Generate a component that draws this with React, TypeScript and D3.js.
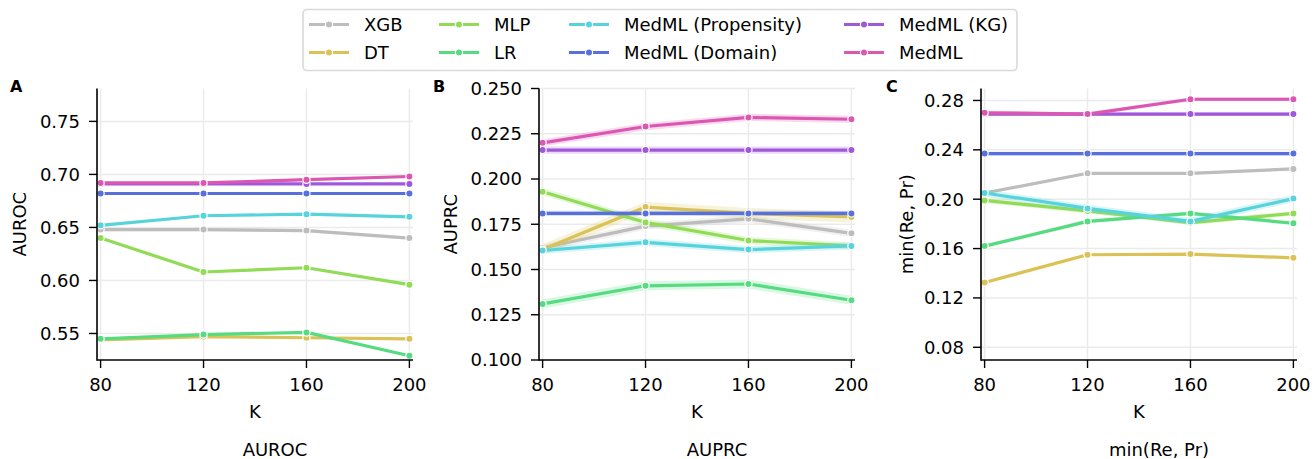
import React from "react";
import * as d3 from "d3";

const K = [80, 120, 160, 200];

const models = [
  "XGB",
  "DT",
  "MLP",
  "LR",
  "MedML (Propensity)",
  "MedML (Domain)",
  "MedML (KG)",
  "MedML",
];

const colors = [
  "#bdbdbd",
  "#dbc257",
  "#91db57",
  "#57db80",
  "#57d3db",
  "#5770db",
  "#a157db",
  "#db57b2",
];

// values per model, same order as `models`
const aurocValues = [
  [0.648, 0.648, 0.647, 0.64],
  [0.544, 0.547, 0.546, 0.545],
  [0.64, 0.608, 0.612, 0.596],
  [0.545, 0.549, 0.551, 0.529],
  [0.652, 0.661, 0.6625, 0.66],
  [0.682, 0.682, 0.682, 0.682],
  [0.691, 0.691, 0.691, 0.691],
  [0.692, 0.692, 0.695, 0.698],
];
const aurocErr = [0.0015, 0.001, 0.001, 0.001, 0.001, 0.0008, 0.0008, 0.001];

const auprcValues = [
  [0.162, 0.174, 0.178, 0.17],
  [0.161, 0.1845, 0.181, 0.179],
  [0.193, 0.176, 0.166, 0.163],
  [0.131, 0.141, 0.142, 0.133],
  [0.1605, 0.165, 0.161, 0.163],
  [0.181, 0.181, 0.181, 0.181],
  [0.216, 0.216, 0.216, 0.216],
  [0.22, 0.229, 0.234, 0.233],
];
const auprcErr = [0.002, 0.003, 0.002, 0.0025, 0.002, 0.0015, 0.002, 0.002];

const minRePrValues = [
  [0.205, 0.221, 0.221, 0.2245],
  [0.1325, 0.155, 0.1555, 0.1525],
  [0.199, 0.1905, 0.181, 0.1885],
  [0.162, 0.182, 0.1885, 0.1805],
  [0.205, 0.1925, 0.182, 0.2005],
  [0.237, 0.237, 0.237, 0.237],
  [0.269, 0.269, 0.269, 0.269],
  [0.27, 0.269, 0.281, 0.281],
];
const minRePrErr = [0.001, 0.001, 0.002, 0.0015, 0.003, 0.0015, 0.0015, 0.0015];

const aurocTicks = [0.55, 0.6, 0.65, 0.7, 0.75];
const auprcTicks = [0.1, 0.125, 0.15, 0.175, 0.2, 0.225, 0.25];
const minRePrTicks = [0.08, 0.12, 0.16, 0.2, 0.24, 0.28];

const FONT = "DejaVu Sans, sans-serif";

const panels = [
  {
    letter: "A", ylabel: "AUROC", title: "AUROC",
    values: aurocValues, err: aurocErr, ticks: aurocTicks, fmt: ".2f",
    yDomain: [0.525, 0.781], left: 97, right: 413, letterX: 10, ylabelX: 26,
  },
  {
    letter: "B", ylabel: "AUPRC", title: "AUPRC",
    values: auprcValues, err: auprcErr, ticks: auprcTicks, fmt: ".3f",
    yDomain: [0.1, 0.25], left: 539, right: 855, letterX: 433, ylabelX: 456.5,
  },
  {
    letter: "C", ylabel: "min(Re, Pr)", title: "min(Re, Pr)",
    values: minRePrValues, err: minRePrErr, ticks: minRePrTicks, fmt: ".2f",
    yDomain: [0.0697, 0.2897], left: 981, right: 1297, letterX: 886, ylabelX: 912.5,
  },
];

const TOP = 88.5;
const BOTTOM = 360;

function Panel({ p }: { p: any }) {
  const x = d3.scaleLinear().domain([78.6, 201.4]).range([p.left, p.right]);
  const y = d3.scaleLinear().domain(p.yDomain).range([BOTTOM, TOP]);
  const fmt = d3.format(p.fmt);
  const line = d3.line<number>().x((_, i) => x(K[i])).y((d) => y(d));
  const mid = (p.left + p.right) / 2;

  return (
    <g>
      {/* grid */}
      {p.ticks.map((t: number) => (
        <line key={"gy" + t} x1={p.left} x2={p.right} y1={y(t)} y2={y(t)} stroke="#ebebeb" strokeWidth={1.5} />
      ))}
      {K.map((k) => (
        <line key={"gx" + k} x1={x(k)} x2={x(k)} y1={TOP} y2={BOTTOM} stroke="#ebebeb" strokeWidth={1.5} />
      ))}

      {/* bands + lines */}
      {p.values.map((vals: number[], m: number) => {
        const area = d3
          .area<number>()
          .x((_, i) => x(K[i]))
          .y0((d) => y(d - p.err[m]))
          .y1((d) => y(d + p.err[m]));
        return (
          <g key={models[m]}>
            <path d={area(vals) || ""} fill={colors[m]} opacity={0.22} />
            <path d={line(vals) || ""} fill="none" stroke={colors[m]} strokeWidth={3.2} strokeLinejoin="round" />
            {vals.map((v, i) => (
              <circle key={i} cx={x(K[i])} cy={y(v)} r={3.6} fill={colors[m]} stroke="#fff" strokeWidth={1.2} />
            ))}
          </g>
        );
      })}

      {/* spines */}
      <line x1={p.left} x2={p.left} y1={TOP} y2={BOTTOM + 0.8} stroke="#000" strokeWidth={1.6} />
      <line x1={p.left} x2={p.right} y1={BOTTOM} y2={BOTTOM} stroke="#000" strokeWidth={1.6} />

      {/* y ticks */}
      {p.ticks.map((t: number) => (
        <g key={"ty" + t}>
          <line x1={p.left - 8} x2={p.left} y1={y(t)} y2={y(t)} stroke="#000" strokeWidth={1.4} />
          <text x={p.left - 17} y={y(t)} dy="0.36em" textAnchor="end" fontSize={18} fontFamily={FONT} fill="#000">
            {fmt(t)}
          </text>
        </g>
      ))}

      {/* x ticks */}
      {K.map((k) => (
        <g key={"tx" + k}>
          <line x1={x(k)} x2={x(k)} y1={BOTTOM} y2={BOTTOM + 8} stroke="#000" strokeWidth={1.4} />
          <text x={x(k)} y={391} textAnchor="middle" fontSize={18} fontFamily={FONT} fill="#000">
            {k}
          </text>
        </g>
      ))}

      <text x={mid} y={418} textAnchor="middle" fontSize={18} fontFamily={FONT}>K</text>
      <text x={mid + 20} y={456} textAnchor="middle" fontSize={18} fontFamily={FONT}>{p.title}</text>
      <text
        transform={`translate(${p.ylabelX},${(TOP + BOTTOM) / 2}) rotate(-90)`}
        textAnchor="middle"
        fontSize={18}
        fontFamily={FONT}
      >
        {p.ylabel}
      </text>
      <text x={p.letterX} y={92} fontSize={16} fontWeight="bold" fontFamily={FONT}>{p.letter}</text>
    </g>
  );
}

function Legend() {
  const colX = [309, 439, 569, 844];
  const rowY = [24.5, 52.5];
  return (
    <g>
      <rect x={303} y={9.5} width={714} height={61} rx={4} fill="#fff" stroke="#d9d9d9" strokeWidth={1.6} />
      {models.map((name, i) => {
        const cx = colX[Math.floor(i / 2)];
        const cy = rowY[i % 2];
        return (
          <g key={name}>
            <line x1={cx} x2={cx + 40} y1={cy} y2={cy} stroke={colors[i]} strokeWidth={3.2} />
            <circle cx={cx + 20} cy={cy} r={3.6} fill={colors[i]} stroke="#fff" strokeWidth={1.2} />
            <text x={cx + 55} y={cy} dy="0.36em" fontSize={18} fontFamily={FONT} fill="#000">
              {name}
            </text>
          </g>
        );
      })}
    </g>
  );
}

export default function App() {
  return (
    <svg
      width={1314}
      height={459}
      style={{ position: "absolute", left: 0, top: 0, background: "#fff" }}
    >
      <rect width={1314} height={459} fill="#fff" />
      {panels.map((p) => (
        <Panel key={p.letter} p={p} />
      ))}
      <Legend />
    </svg>
  );
}
